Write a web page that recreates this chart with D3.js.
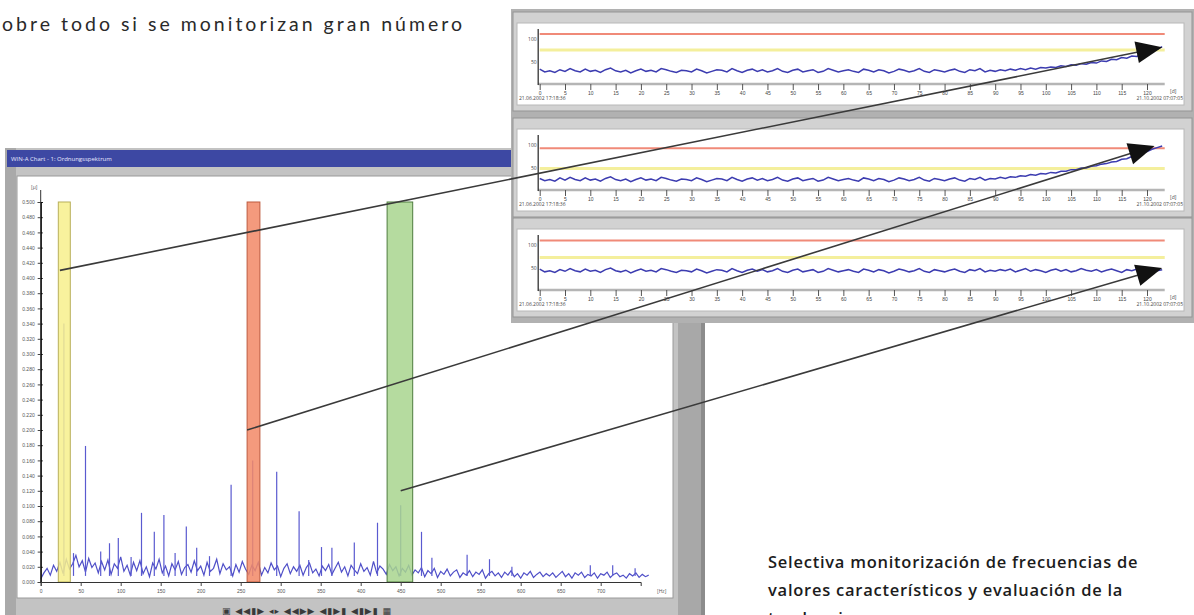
<!DOCTYPE html>
<html>
<head>
<meta charset="utf-8">
<script src="https://cdn.jsdelivr.net/npm/d3@7"></script>
<style>
  body { margin: 0; background: #fff; }
  svg { display: block; font-family: "Open Sans", sans-serif; }
</style>
</head>
<body>
<div id="chart-area"></div>
<script>
// ---- data ----
// spectrum noise floor, one value every 4 Hz from 0 Hz
const specStep = 4;
const specNoise = [
  0.004,0.012,0.018,0.009,0.022,0.014,0.026,0.011,0.030,0.017,
  0.024,0.035,0.020,0.028,0.013,0.031,0.019,0.025,0.012,0.027,
  0.016,0.029,0.010,0.024,0.018,0.033,0.014,0.022,0.009,0.026,
  0.015,0.028,0.011,0.020,0.007,0.025,0.017,0.030,0.012,0.021,
  0.008,0.024,0.016,0.027,0.010,0.019,0.023,0.013,0.028,0.015,
  0.021,0.009,0.026,0.014,0.018,0.030,0.011,0.024,0.016,0.020,
  0.008,0.023,0.013,0.027,0.017,0.010,0.022,0.015,0.026,0.009,
  0.019,0.012,0.025,0.016,0.021,0.007,0.018,0.024,0.011,0.020,
  0.014,0.022,0.009,0.019,0.025,0.012,0.017,0.008,0.021,0.015,
  0.023,0.010,0.018,0.026,0.013,0.020,0.008,0.022,0.016,0.011,
  0.024,0.014,0.019,0.009,0.027,0.012,0.021,0.017,0.010,0.023,
  0.015,0.020,0.008,0.018,0.013,0.022,0.009,0.016,0.012,0.019,
  0.007,0.015,0.011,0.018,0.006,0.014,0.010,0.017,0.008,0.013,
  0.016,0.006,0.012,0.009,0.015,0.007,0.013,0.010,0.016,0.005,
  0.011,0.014,0.008,0.012,0.006,0.013,0.009,0.015,0.007,0.011,
  0.005,0.012,0.009,0.014,0.006,0.010,0.013,0.007,0.011,0.008,
  0.012,0.006,0.010,0.014,0.007,0.011,0.005,0.012,0.009,0.013,
  0.006,0.010,0.008,0.012,0.005,0.011,0.009,0.013,0.006,0.010,
  0.012,0.007,0.009,0.005,0.011,0.008,0.012,0.006,0.010,0.007,0.009
];
const peakFreq = [29, 41, 56, 75, 86, 97, 113, 126, 142, 154, 168, 182, 195, 211, 238, 265, 295, 323, 335, 351, 364, 392, 421, 450, 476, 489, 533, 561, 589, 687, 715, 743];
const peakAmp = [0.34, 0.038, 0.179, 0.040, 0.051, 0.058, 0.033, 0.091, 0.066, 0.088, 0.038, 0.073, 0.045, 0.034, 0.128, 0.160, 0.145, 0.093, 0.029, 0.046, 0.045, 0.052, 0.078, 0.101, 0.066, 0.032, 0.036, 0.030, 0.020, 0.022, 0.022, 0.018];

const bandStart = [22, 258, 433];
const bandEnd = [37, 274, 465];
const bandFill = ['#f7f08c', '#f28866', '#a8d58e'];
const bandStroke = ['#b8b05a', '#bd5a3e', '#4e7c3e'];

const specYTicks = [0, 0.02, 0.04, 0.06, 0.08, 0.10, 0.12, 0.14, 0.16, 0.18, 0.20, 0.22, 0.24,
  0.26, 0.28, 0.30, 0.32, 0.34, 0.36, 0.38, 0.40, 0.42, 0.44, 0.46, 0.48, 0.50];
const specXTicks = [0, 50, 100, 150, 200, 250, 300, 350, 400, 450, 500, 550, 600, 650, 700];

// trend windows
const trendXTicks = [0, 5, 10, 15, 20, 25, 30, 35, 40, 45, 50, 55, 60, 65, 70, 75, 80, 85, 90, 95, 100, 105, 110, 115, 120];
const trendYTicks = [40, 81];
const trendYLabels = ['50', '100'];
const trendA = [
  27,22,24,21,26,23,28,24,22,27, 23,25,21,26,29,24,22,25,20,24,
  27,23,25,22,28,26,23,21,25,24, 22,27,24,20,23,26,25,22,28,24,
  21,25,27,23,26,22,24,28,23,21, 25,27,22,24,26,21,23,28,25,22,
  24,26,23,21,27,25,22,26,24,20, 23,27,25,22,24,28,23,21,26,24,
  22,25,27,23,21,26,24,28,22,25, 23,26,24,27,25,28,26,29,27,30,
  29,31,30,33,32,35,34,37,36,39, 38,42,41,45,44,48,47,51,50,55,
  56,60,63,68
];
const trendB = [
  21,17,19,16,22,18,23,19,17,22, 18,20,16,21,24,19,17,20,15,19,
  22,18,20,17,23,21,18,16,20,19, 17,22,19,15,18,21,20,17,23,19,
  16,20,22,18,21,17,19,23,18,16, 20,22,17,19,21,16,18,23,20,17,
  19,21,18,16,22,20,17,21,19,15, 18,22,20,17,19,23,18,16,21,19,
  17,20,22,18,16,21,19,23,18,21, 20,23,21,24,23,26,25,28,27,30,
  29,32,31,34,34,37,37,40,40,43, 44,47,48,51,52,56,57,61,63,67,
  70,74,77,80
];
const trendC = [
  38,33,35,32,37,34,39,35,33,38, 34,36,32,37,40,35,33,36,31,35,
  38,34,36,33,39,37,34,32,36,35, 33,38,35,31,34,37,36,33,39,35,
  32,36,38,34,37,33,35,39,34,32, 36,38,33,35,37,32,34,39,36,33,
  35,37,34,32,38,36,33,37,35,31, 34,38,36,33,35,39,34,32,37,35,
  33,36,38,34,32,37,35,39,33,36, 34,37,35,38,33,36,39,34,37,35,
  32,36,38,34,37,33,35,39,36,34, 37,33,36,38,35,32,37,35,38,34,
  36,38,35,37
];
const redLevel = [91, 76, 90];
const yellowLevel = [62, 39, 59];
const dateStart = '21.06.2002 17:18:36';
const dateEnd = '21.10.2002 07:07:05';

// links: spectrum point -> trend point
const linkFreq = [24, 258, 450];
const linkAmp = [0.41, 0.20, 0.12];
const linkDay = [123, 121.5, 123];
const linkValue = [67, 80, 40];

// ---- drawing ----
const svg = d3.select('#chart-area').append('svg')
    .attr('width', 1194)
    .attr('height', 615);

// brochure text
svg.append('text')
    .attr('x', 2).attr('y', 31)
    .attr('font-family', 'Lato, sans-serif')
    .attr('font-size', 19.5)
    .attr('letter-spacing', 3)
    .attr('fill', '#2a2a2a')
    .text('obre todo si se monitorizan gran número');

const caption = ['Selectiva monitorización de frecuencias de',
  'valores característicos y evaluación de la', 'tendencia.'];
caption.forEach((line, i) => {
    svg.append('text')
        .attr('x', 768).attr('y', 568 + i * 28)
        .attr('font-family', '"Open Sans", sans-serif')
        .attr('font-size', 16.5)
        .attr('font-weight', 600)
        .attr('letter-spacing', 0.75)
        .attr('fill', '#1c1c1c')
        .text(line);
});

// left window (spectrum)
const win = svg.append('g');
win.append('rect').attr('x', 5).attr('y', 148).attr('width', 700).attr('height', 470).attr('fill', '#c3c3c3');
win.append('rect').attr('x', 5).attr('y', 148).attr('width', 11).attr('height', 470).attr('fill', '#a9a9a9');
win.append('rect').attr('x', 678).attr('y', 148).attr('width', 24).attr('height', 470).attr('fill', '#a8a8a8');
win.append('rect').attr('x', 701).attr('y', 148).attr('width', 4).attr('height', 470).attr('fill', '#8c8c8c');
win.append('rect').attr('x', 7).attr('y', 150).attr('width', 690).attr('height', 17).attr('fill', '#3d48a3');
win.append('text').attr('x', 11).attr('y', 161).attr('font-size', 6).attr('fill', '#e8e8ff')
    .text('WIN-A Chart - 1: Ordnungsspektrum');
win.append('rect').attr('x', 17).attr('y', 176).attr('width', 656).attr('height', 422)
    .attr('fill', '#fff').attr('stroke', '#9a9a9a');
win.append('text').attr('x', 222).attr('y', 614).attr('font-family', 'DejaVu Sans')
    .attr('font-size', 9).attr('fill', '#3a3a3a').attr('letter-spacing', 1)
    .text('▣ ◀◀▮▶ ◂▸ ◀◀▶▶  ◀▮▶▮  ◀▮▶▮  ▦');

const sx = d3.scaleLinear().domain([0, 750]).range([40.7, 640.7]);
const sy = d3.scaleLinear().domain([0, 0.5]).range([582, 202]);

const specLine = d3.line().x(d => sx(d[0])).y(d => sy(d[1]));
win.append('path')
    .datum(specNoise.map((v, i) => [i * specStep, v]).filter(d => d[0] <= 760))
    .attr('d', specLine)
    .attr('fill', 'none')
    .attr('stroke', '#4f4fc8')
    .attr('stroke-width', 1.2);

win.selectAll('line.peak').data(peakFreq).enter().append('line')
    .attr('class', 'peak')
    .attr('x1', d => sx(d)).attr('x2', d => sx(d))
    .attr('y1', sy(0.008))
    .attr('y2', (d, i) => sy(peakAmp[i]))
    .attr('stroke', '#5a5ad0')
    .attr('stroke-width', 1.2);

win.selectAll('rect.band').data(bandStart).enter().append('rect')
    .attr('class', 'band')
    .attr('x', d => sx(d))
    .attr('y', sy(0.5))
    .attr('width', (d, i) => sx(bandEnd[i]) - sx(d))
    .attr('height', sy(0) - sy(0.5))
    .attr('fill', (d, i) => bandFill[i])
    .attr('fill-opacity', 0.85)
    .attr('stroke', (d, i) => bandStroke[i])
    .attr('stroke-width', 1);

const yAxisL = win.append('g')
    .attr('transform', `translate(${sx(0)},0)`)
    .call(d3.axisLeft(sy).tickValues(specYTicks).tickFormat(d3.format('.3f')).tickSize(3));
win.append('g')
    .attr('transform', `translate(${sx(0)},0)`)
    .call(d3.axisRight(sy).tickValues(specYTicks).tickFormat('').tickSize(2));
win.append('line').attr('x1', sx(0)).attr('x2', sx(0)).attr('y1', 190).attr('y2', sy(0))
    .attr('stroke', '#333');
win.append('text').attr('x', 31).attr('y', 189).attr('font-size', 5).attr('fill', '#555').text('[µ]');

const xAxisS = win.append('g')
    .attr('transform', `translate(0,${sy(0)})`)
    .call(d3.axisBottom(sx).tickValues(specXTicks).tickFormat(d3.format('d')).tickSize(4));
win.append('text').attr('x', 657).attr('y', 593).attr('font-size', 5).attr('fill', '#555').text('[Hz]');

[yAxisL, xAxisS].forEach(a => {
    a.selectAll('text').attr('font-size', 5).attr('fill', '#555');
    a.selectAll('line').attr('stroke', '#444');
    a.select('.domain').attr('stroke', '#333');
});

// right trend windows
const winDy = [0, 106, 206];
const trends = [trendA, trendB, trendC];
const tx = d3.scaleLinear().domain([0, 120]).range([539.7, 1147]);

svg.append('rect').attr('x', 511).attr('y', 9).attr('width', 683).attr('height', 314).attr('fill', '#b1b1b1');

trends.forEach((series, i) => {
    const dy = winDy[i];
    const ty = d3.scaleLinear().domain([0, 100]).range([84 + dy, 29 + dy]);
    const g = svg.append('g');

    g.append('rect').attr('x', 513).attr('y', 12 + dy).attr('width', 679).attr('height', 99)
        .attr('fill', '#d2d2d2').attr('stroke', '#959595');
    g.append('rect').attr('x', 517).attr('y', 23 + dy).attr('width', 667).attr('height', 82)
        .attr('fill', '#fff').attr('stroke', '#b8b8b8');

    // limit lines
    g.append('line').attr('x1', tx(0)).attr('x2', tx(123.5))
        .attr('y1', ty(redLevel[i])).attr('y2', ty(redLevel[i]))
        .attr('stroke', '#f08a78').attr('stroke-width', 2);
    g.append('line').attr('x1', tx(0)).attr('x2', tx(123.5))
        .attr('y1', ty(yellowLevel[i])).attr('y2', ty(yellowLevel[i]))
        .attr('stroke', '#f4ef9c').attr('stroke-width', 3);

    // x axis
    const xa = g.append('g')
        .attr('transform', `translate(0,${ty(0)})`)
        .call(d3.axisBottom(tx).tickValues(trendXTicks).tickFormat(d3.format('d')).tickSize(6));
    xa.select('.domain').attr('stroke', '#b5b5b5').attr('stroke-width', 2.5)
        .attr('d', `M${tx(-0.3)},0H${tx(123.5)}`);
    xa.selectAll('line').attr('stroke', '#555');
    xa.selectAll('text').attr('font-size', 5).attr('fill', '#444').attr('dy', '0.45em');
    g.append('text').attr('x', 1170).attr('y', ty(0) + 9).attr('font-size', 5).attr('fill', '#444').text('[d]');

    // y axis
    g.append('line').attr('x1', tx(-0.3)).attr('x2', tx(-0.3))
        .attr('y1', ty(0) - 55).attr('y2', ty(0) + 1)
        .attr('stroke', '#222').attr('stroke-width', 1.2);
    trendYTicks.forEach((v, k) => {
        g.append('text').attr('x', tx(0) - 3).attr('y', ty(v) + 2)
            .attr('text-anchor', 'end').attr('font-size', 5).attr('fill', '#444')
            .text(trendYLabels[k]);
    });

    // trend line
    g.append('path')
        .datum(series)
        .attr('d', d3.line().x((d, k) => tx(k)).y(d => ty(d)))
        .attr('fill', 'none')
        .attr('stroke', '#3c3cb0')
        .attr('stroke-width', 1.5);

    g.append('text').attr('x', 519).attr('y', ty(0) + 16).attr('font-size', 5).attr('fill', '#444').text(dateStart);
    g.append('text').attr('x', 1183).attr('y', ty(0) + 16).attr('text-anchor', 'end')
        .attr('font-size', 5).attr('fill', '#444').text(dateEnd);
});

// connectors with arrow heads
linkFreq.forEach((f, i) => {
    const ty = d3.scaleLinear().domain([0, 100]).range([84 + winDy[i], 29 + winDy[i]]);
    const x0 = sx(f), y0 = sy(linkAmp[i]);
    const x1 = tx(linkDay[i]), y1 = ty(linkValue[i]);
    const len = Math.hypot(x1 - x0, y1 - y0);
    const ux = (x1 - x0) / len, uy = (y1 - y0) / len;
    const bx = x1 - ux * 26, by = y1 - uy * 26;
    svg.append('line')
        .attr('x1', x0).attr('y1', y0).attr('x2', bx + ux * 4).attr('y2', by + uy * 4)
        .attr('stroke', '#3a3a3a').attr('stroke-width', 1.6);
    svg.append('path')
        .attr('d', `M${x1},${y1}L${bx - uy * 11},${by + ux * 11}L${bx + uy * 11},${by - ux * 11}Z`)
        .attr('fill', '#111');
});
</script>
</body>
</html>
